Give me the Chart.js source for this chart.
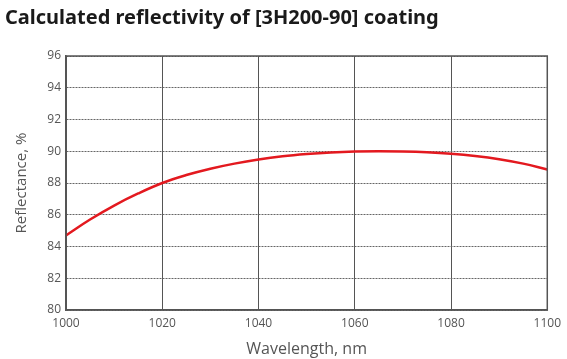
<!DOCTYPE html>
<html>
<head>
<meta charset="utf-8">
<script src="https://cdn.jsdelivr.net/npm/chart.js@4"></script>
<style>
html,body{margin:0;padding:0;background:#fff;}
#wrap{width:567px;height:359px;position:relative;}
</style>
</head>
<body>
<div id="wrap"><canvas id="c" width="567" height="359"></canvas></div>
<script>
const titleText = "Calculated reflectivity of [3H200-90] coating";
const wavelengths = [1000,1005,1010,1015,1020,1025,1030,1035,1040,1045,1050,1055,1060,1065,1070,1075,1080,1085,1090,1095,1100];
const reflectance = [84.7,85.7,86.58,87.34,88.0,88.5,88.9,89.22,89.48,89.68,89.82,89.92,89.98,90.0,89.98,89.93,89.84,89.7,89.5,89.22,88.85];
const xTicks = [1000,1020,1040,1060,1080,1100];
const yTicks = [80,82,84,86,88,90,92,94,96];
const xTitle = "Wavelength, nm";
const yTitle = "Reflectance, %";

const pts = wavelengths.map((w,i)=>({x:w,y:reflectance[i]}));

new Chart(document.getElementById('c'), {
  type: 'line',
  data: { datasets: [{
    data: pts,
    borderColor: '#e3191f',
    borderWidth: 2.5,
    pointRadius: 0,
    tension: 0.4,
    fill: false
  }]},
  options: {
    responsive: false,
    animation: false,
    devicePixelRatio: 1,
    layout: { padding: { left: 5, right: 19, top: 0, bottom: 0 } },
    plugins: {
      legend: { display: false },
      tooltip: { enabled: false },
      title: {
        display: true, text: titleText, align: 'start',
        color: '#1a1a1a',
        font: { family: "'Noto Sans'", size: 20, weight: 'bold' },
        padding: { top: 6, bottom: 26 }
      }
    },
    scales: {
      x: {
        type: 'linear', min: 1000, max: 1100,
        afterBuildTicks: s => { s.ticks = xTicks.map(v=>({value:v})); },
        afterFit: s => { s.height = 49; },
        grid: { color: '#555', lineWidth: 1, drawTicks: false },
        border: { color: '#555', width: 1.5 },
        ticks: { color: '#555', padding: 6, maxRotation: 0,
                 callback: v => String(v),
                 font: { family: "'Open Sans'", size: 12 } },
        title: { display: true, text: xTitle, color: '#555', padding: { top: 0, bottom: 0 },
                 font: { family: "'Open Sans'", size: 16 } }
      },
      y: {
        type: 'linear', min: 80, max: 96,
        afterBuildTicks: s => { s.ticks = yTicks.map(v=>({value:v})); },
        afterFit: s => { s.width = 61; },
        grid: { color: '#666', lineWidth: 1, drawTicks: false },
        border: { color: '#555', width: 1.5, dash: [2,1] },
        ticks: { color: '#555', padding: 5,
                 font: { family: "'Open Sans'", size: 12 } },
        title: { display: true, text: yTitle, color: '#555', padding: { top: 8, bottom: 0 },
                 font: { family: "'Open Sans'", size: 15 } }
      }
    }
  },
  plugins: [{
    id: 'frame',
    afterDraw(chart) {
      const {ctx, chartArea:a} = chart;
      ctx.save();
      ctx.strokeStyle = '#555';
      ctx.lineWidth = 1.5;
      ctx.setLineDash([]);
      ctx.strokeRect(a.left, a.top, a.right - a.left, a.bottom - a.top);
      ctx.restore();
    }
  }]
});
</script>
</body>
</html>
